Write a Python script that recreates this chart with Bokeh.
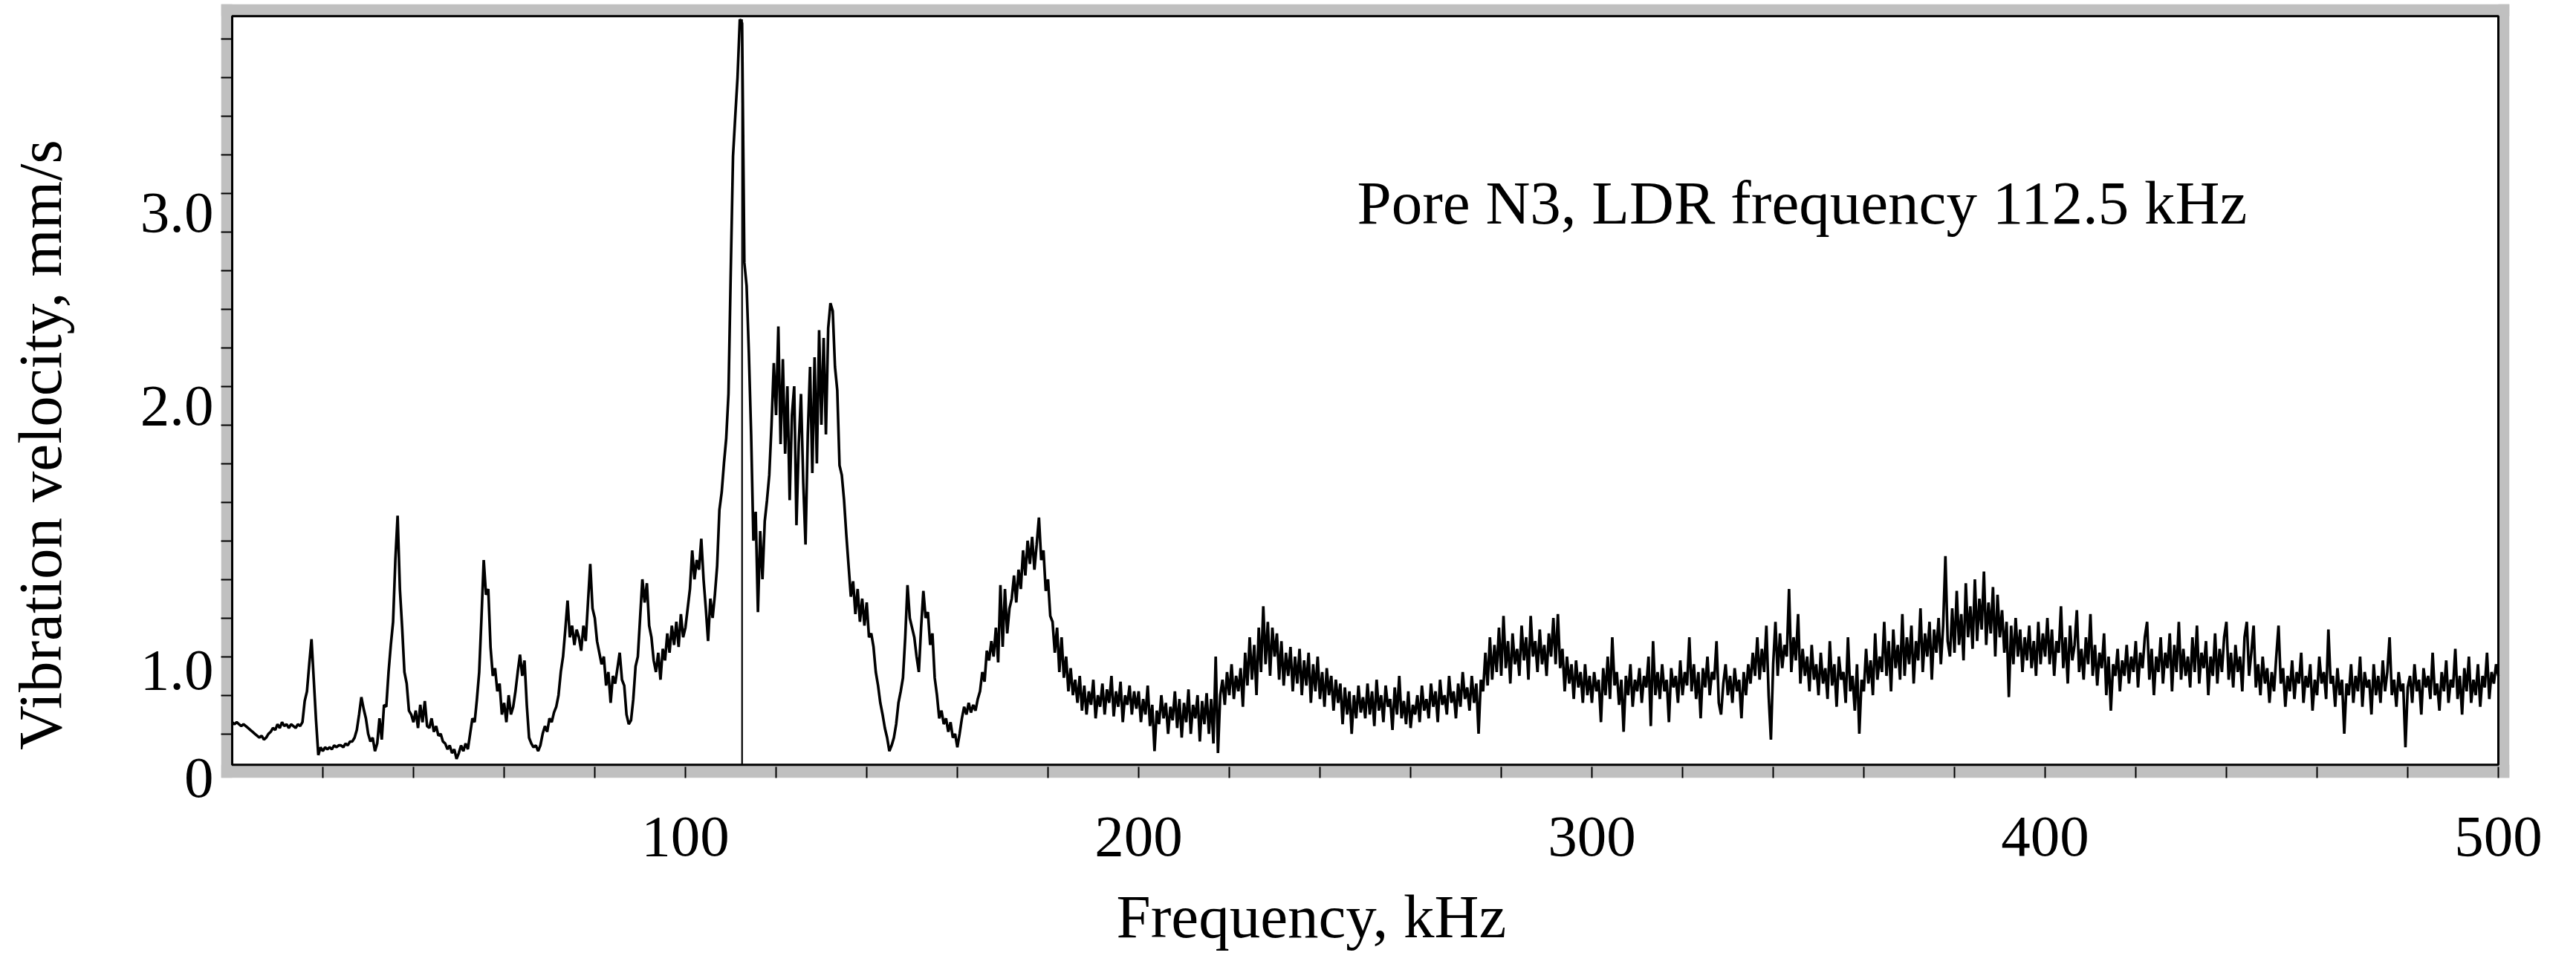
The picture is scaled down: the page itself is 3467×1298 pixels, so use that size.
import numpy as np
from bokeh.plotting import figure
from bokeh.models import Range1d, FixedTicker, BoxAnnotation, Label
from bokeh.embed import file_html
from bokeh.resources import INLINE

# ---------------- data ----------------
FREQ_STEP_KHZ = 0.5           # sampling step of the spectrum, kHz
LDR_FREQ_KHZ = 112.5          # marked LDR frequency

# vibration velocity, mm/s, every 0.5 kHz
v_000_050 = [
    0.36, 0.35, 0.36, 0.35, 0.34, 0.35, 0.34, 0.33, 0.32, 0.31,
    0.30, 0.29, 0.28, 0.29, 0.27, 0.28, 0.30, 0.31, 0.33, 0.32,
    0.35, 0.33, 0.36, 0.34, 0.35, 0.33, 0.35, 0.34, 0.33, 0.35,
    0.34, 0.36, 0.47, 0.52, 0.66, 0.79, 0.58, 0.37, 0.19, 0.23,
    0.21, 0.23, 0.22, 0.23, 0.22, 0.24, 0.23, 0.24, 0.24, 0.23,
    0.25, 0.24, 0.26, 0.26, 0.28, 0.32, 0.40, 0.49, 0.43, 0.38,
    0.30, 0.26, 0.28, 0.21, 0.25, 0.38, 0.27, 0.45, 0.44, 0.62,
    0.76, 0.88, 1.20, 1.43, 1.05, 0.85, 0.62, 0.56, 0.42, 0.40,
    0.36, 0.42, 0.33, 0.45, 0.36, 0.47, 0.34, 0.33, 0.38, 0.31,
    0.34, 0.29, 0.30, 0.26, 0.25, 0.22, 0.24, 0.20, 0.22, 0.17,
]
v_050_100 = [
    0.20, 0.24, 0.21, 0.25, 0.22, 0.30, 0.38, 0.36, 0.48, 0.62,
    0.90, 1.20, 1.02, 1.05, 0.75, 0.60, 0.64, 0.52, 0.56, 0.40,
    0.46, 0.36, 0.50, 0.40, 0.44, 0.52, 0.62, 0.71, 0.60, 0.68,
    0.45, 0.28, 0.25, 0.23, 0.24, 0.21, 0.24, 0.30, 0.34, 0.31,
    0.38, 0.36, 0.41, 0.44, 0.50, 0.62, 0.70, 0.84, 0.99, 0.80,
    0.86, 0.76, 0.84, 0.80, 0.73, 0.86, 0.78, 0.98, 1.18, 0.95,
    0.90, 0.78, 0.72, 0.66, 0.70, 0.55, 0.62, 0.46, 0.60, 0.56,
    0.64, 0.72, 0.58, 0.55, 0.40, 0.35, 0.37, 0.48, 0.65, 0.70,
    0.90, 1.10, 0.98, 1.08, 0.86, 0.80, 0.68, 0.62, 0.72, 0.58,
    0.74, 0.68, 0.82, 0.72, 0.86, 0.76, 0.88, 0.75, 0.92, 0.80,
]
v_100_150 = [
    0.85, 0.95, 1.05, 1.25, 1.10, 1.20, 1.15, 1.31, 1.10, 0.95,
    0.78, 1.00, 0.90, 1.02, 1.17, 1.46, 1.55, 1.70, 1.83, 2.06,
    2.69, 3.29, 3.50, 3.70, 4.00, 3.98, 2.74, 2.62, 2.27, 1.85,
    1.30, 1.45, 0.93, 1.35, 1.10, 1.40, 1.51, 1.64, 1.90, 2.22,
    1.95, 2.41, 1.80, 2.24, 1.75, 2.10, 1.51, 1.95, 2.10, 1.38,
    1.80, 2.06, 1.60, 1.28, 1.85, 2.20, 1.65, 2.25, 1.70, 2.39,
    1.90, 2.35, 1.85, 2.40, 2.53, 2.49, 2.20, 2.08, 1.69, 1.64,
    1.51, 1.33, 1.17, 1.01, 1.09, 0.92, 1.05, 0.88, 1.00, 0.86,
    0.98, 0.80, 0.82, 0.75, 0.62, 0.55, 0.46, 0.40, 0.33, 0.28,
    0.21, 0.24, 0.28, 0.35, 0.46, 0.52, 0.59, 0.80, 1.07, 0.90,
]
v_150_200 = [
    0.85, 0.80, 0.70, 0.62, 0.85, 1.04, 0.90, 0.93, 0.76, 0.82,
    0.59, 0.50, 0.38, 0.42, 0.35, 0.38, 0.31, 0.36, 0.28, 0.30,
    0.23, 0.30, 0.38, 0.44, 0.40, 0.46, 0.41, 0.45, 0.42, 0.48,
    0.52, 0.62, 0.57, 0.73, 0.68, 0.78, 0.70, 0.85, 0.67, 1.07,
    0.75, 1.05, 0.82, 0.95, 1.00, 1.12, 0.98, 1.15, 1.05, 1.25,
    1.12, 1.30, 1.18, 1.32, 1.15, 1.28, 1.42, 1.20, 1.25, 1.04,
    1.10, 0.91, 0.88, 0.72, 0.85, 0.62, 0.80, 0.59, 0.70, 0.52,
    0.64, 0.50, 0.58, 0.46, 0.60, 0.42, 0.55, 0.40, 0.52, 0.45,
    0.58, 0.38, 0.50, 0.44, 0.56, 0.40, 0.53, 0.46, 0.60, 0.39,
    0.52, 0.44, 0.57, 0.36, 0.50, 0.45, 0.55, 0.40, 0.52, 0.43,
]
v_200_250 = [
    0.52, 0.36, 0.48, 0.40, 0.55, 0.34, 0.45, 0.21, 0.42, 0.35,
    0.50, 0.38, 0.46, 0.30, 0.44, 0.37, 0.52, 0.33, 0.48, 0.28,
    0.46, 0.36, 0.53, 0.30, 0.45, 0.38, 0.50, 0.26, 0.47, 0.35,
    0.51, 0.30, 0.48, 0.25, 0.70, 0.20, 0.50, 0.58, 0.45, 0.62,
    0.50, 0.66, 0.48, 0.60, 0.52, 0.64, 0.44, 0.72, 0.55, 0.80,
    0.58, 0.76, 0.50, 0.85, 0.62, 0.96, 0.66, 0.88, 0.60, 0.85,
    0.70, 0.82, 0.58, 0.78, 0.55, 0.72, 0.60, 0.75, 0.52, 0.70,
    0.56, 0.74, 0.50, 0.68, 0.55, 0.72, 0.46, 0.66, 0.52, 0.70,
    0.48, 0.62, 0.44, 0.64, 0.50, 0.60, 0.42, 0.58, 0.46, 0.56,
    0.35, 0.54, 0.40, 0.52, 0.30, 0.50, 0.38, 0.55, 0.41, 0.49,
]
v_250_300 = [
    0.38, 0.56, 0.40, 0.52, 0.34, 0.58, 0.42, 0.50, 0.36, 0.55,
    0.44, 0.48, 0.32, 0.54, 0.40, 0.60, 0.38, 0.47, 0.35, 0.52,
    0.33, 0.45, 0.40, 0.50, 0.36, 0.55, 0.42, 0.48, 0.38, 0.56,
    0.44, 0.52, 0.36, 0.58, 0.45, 0.50, 0.40, 0.60, 0.46, 0.52,
    0.38, 0.56, 0.44, 0.62, 0.48, 0.54, 0.42, 0.60, 0.46, 0.56,
    0.30, 0.58, 0.52, 0.72, 0.55, 0.80, 0.58, 0.76, 0.62, 0.85,
    0.60, 0.91, 0.64, 0.78, 0.56, 0.82, 0.66, 0.74, 0.60, 0.86,
    0.68, 0.80, 0.58, 0.91, 0.70, 0.78, 0.62, 0.84, 0.66, 0.76,
    0.60, 0.82, 0.70, 0.90, 0.66, 0.92, 0.64, 0.74, 0.52, 0.70,
    0.56, 0.66, 0.48, 0.68, 0.54, 0.62, 0.46, 0.66, 0.50, 0.60,
]
v_300_350 = [
    0.46, 0.62, 0.52, 0.58, 0.36, 0.64, 0.50, 0.70, 0.48, 0.80,
    0.55, 0.62, 0.45, 0.58, 0.31, 0.60, 0.50, 0.66, 0.44, 0.58,
    0.52, 0.64, 0.46, 0.60, 0.54, 0.70, 0.34, 0.78, 0.50, 0.62,
    0.48, 0.66, 0.52, 0.58, 0.36, 0.64, 0.54, 0.60, 0.46, 0.68,
    0.50, 0.62, 0.55, 0.80, 0.52, 0.66, 0.48, 0.62, 0.38, 0.64,
    0.54, 0.70, 0.50, 0.62, 0.58, 0.78, 0.46, 0.40, 0.56, 0.66,
    0.50, 0.60, 0.46, 0.64, 0.52, 0.58, 0.38, 0.62, 0.50, 0.66,
    0.56, 0.72, 0.60, 0.80, 0.58, 0.74, 0.62, 0.86, 0.50, 0.27,
    0.66, 0.88, 0.60, 0.82, 0.64, 0.76, 0.70, 1.05, 0.62, 0.80,
    0.68, 0.92, 0.56, 0.74, 0.60, 0.70, 0.52, 0.76, 0.58, 0.66,
]
v_350_400 = [
    0.50, 0.72, 0.56, 0.64, 0.48, 0.78, 0.55, 0.66, 0.44, 0.70,
    0.58, 0.62, 0.46, 0.80, 0.52, 0.60, 0.42, 0.66, 0.30, 0.58,
    0.52, 0.74, 0.56, 0.68, 0.50, 0.82, 0.58, 0.70, 0.62, 0.88,
    0.60, 0.78, 0.52, 0.84, 0.64, 0.76, 0.58, 0.92, 0.60, 0.80,
    0.66, 0.86, 0.56, 0.78, 0.68, 0.95, 0.62, 0.82, 0.70, 0.88,
    0.58, 0.84, 0.72, 0.90, 0.66, 0.86, 1.22, 0.78, 0.70, 0.95,
    0.72, 1.04, 0.76, 0.92, 0.68, 1.08, 0.80, 0.96, 0.74, 1.10,
    0.78, 1.00, 0.84, 1.14, 0.76, 0.98, 0.82, 1.06, 0.70, 1.02,
    0.80, 0.94, 0.72, 0.88, 0.49, 0.86, 0.66, 0.90, 0.70, 0.84,
    0.62, 0.80, 0.68, 0.86, 0.64, 0.78, 0.60, 0.88, 0.66, 0.82,
]
v_400_450 = [
    0.70, 0.90, 0.66, 0.84, 0.60, 0.78, 0.72, 0.96, 0.64, 0.80,
    0.56, 0.86, 0.68, 0.76, 0.94, 0.62, 0.74, 0.58, 0.80, 0.66,
    0.92, 0.60, 0.76, 0.55, 0.72, 0.64, 0.82, 0.50, 0.70, 0.42,
    0.66, 0.60, 0.74, 0.52, 0.68, 0.60, 0.76, 0.56, 0.70, 0.62,
    0.78, 0.54, 0.72, 0.64, 0.80, 0.88, 0.58, 0.74, 0.50, 0.70,
    0.62, 0.80, 0.56, 0.72, 0.64, 0.82, 0.52, 0.76, 0.62, 0.88,
    0.58, 0.74, 0.60, 0.70, 0.54, 0.80, 0.62, 0.86, 0.56, 0.72,
    0.64, 0.78, 0.50, 0.70, 0.60, 0.82, 0.56, 0.74, 0.62, 0.80,
    0.88, 0.58, 0.72, 0.54, 0.76, 0.62, 0.70, 0.52, 0.80, 0.88,
    0.60, 0.72, 0.86, 0.54, 0.66, 0.50, 0.70, 0.56, 0.64, 0.46,
]
v_450_500 = [
    0.62, 0.52, 0.70, 0.86, 0.56, 0.64, 0.44, 0.60, 0.52, 0.68,
    0.48, 0.62, 0.56, 0.72, 0.46, 0.60, 0.54, 0.66, 0.42, 0.58,
    0.50, 0.70, 0.56, 0.62, 0.48, 0.84, 0.56, 0.60, 0.44, 0.64,
    0.50, 0.58, 0.30, 0.56, 0.50, 0.66, 0.46, 0.60, 0.52, 0.70,
    0.44, 0.62, 0.54, 0.58, 0.40, 0.66, 0.50, 0.60, 0.46, 0.68,
    0.52, 0.62, 0.80, 0.50, 0.58, 0.44, 0.62, 0.52, 0.56, 0.23,
    0.54, 0.60, 0.46, 0.66, 0.52, 0.58, 0.40, 0.64, 0.54, 0.60,
    0.48, 0.72, 0.50, 0.56, 0.42, 0.62, 0.52, 0.68, 0.46, 0.58,
    0.54, 0.74, 0.48, 0.60, 0.40, 0.64, 0.52, 0.70, 0.46, 0.58,
    0.50, 0.66, 0.44, 0.60, 0.54, 0.72, 0.48, 0.62, 0.56, 0.66,
]
v_500 = [0.60]

# axis ticks and labels
x_tick_values = [100, 200, 300, 400, 500]
x_minor_ticks = [20, 40, 60, 80, 120, 140, 160, 180, 220, 240, 260, 280,
                 320, 340, 360, 380, 420, 440, 460, 480]
y_tick_labels = ["0", "1.0", "2.0", "3.0"]
y_minor_ticks = [0.3, 0.5, 0.7, 0.9, 1.1, 1.3, 1.5, 1.7, 1.9, 2.1,
                 2.3, 2.5, 2.7, 2.9, 3.1, 3.3, 3.5, 3.7, 3.9]

velocity = (v_000_050 + v_050_100 + v_100_150 + v_150_200 + v_200_250 +
            v_250_300 + v_300_350 + v_350_400 + v_400_450 + v_450_500 + v_500)
freq = [i * FREQ_STEP_KHZ for i in range(len(velocity))]

# ---------------- layout ----------------
X_MIN, X_MAX = 0.0, 500.0        # inner plotting box, kHz
Y_LO, Y_HI = 0.14, 4.016         # inner plotting box, mm/s
PX_PER_KHZ = 6.1
PX_PER_UNIT = 262.0
BAND_X = 15                      # grey frame width in px
BAND_TOP, BAND_BOTTOM = 16.5, 18
GREY = "#c0c0c0"
FONT = "Liberation Serif"
NBSP = "\u00a0"                  # padding that shifts the axis titles off-centre

x_range = Range1d(X_MIN - BAND_X / PX_PER_KHZ, X_MAX + BAND_X / PX_PER_KHZ)
y_range = Range1d(Y_LO - BAND_BOTTOM / PX_PER_UNIT, Y_HI + BAND_TOP / PX_PER_UNIT)
frame_w = round((x_range.end - x_range.start) * PX_PER_KHZ)
frame_h = round((y_range.end - y_range.start) * PX_PER_UNIT)

# where the reference prints its y tick labels (the "0" sits at the corner,
# the "1.0" is printed lower than its nominal value)
y_label_pos = [y_range.start + 1e-6, 0.63, 2.0, 3.0]

LEFT, RIGHT, TOP, BOTTOM = 297, 71, 5, 227

p = figure(width=LEFT + frame_w + RIGHT, height=TOP + frame_h + BOTTOM,
           x_range=x_range, y_range=y_range,
           output_backend="svg", toolbar_location=None,
           min_border_left=LEFT, min_border_right=RIGHT,
           min_border_top=TOP, min_border_bottom=BOTTOM)
p.background_fill_color = "white"
p.border_fill_color = "white"
p.outline_line_color = None
p.grid.visible = False

# grey frame + inner black border
for kw in (dict(right=X_MIN), dict(left=X_MAX), dict(top=Y_LO), dict(bottom=Y_HI)):
    p.add_layout(BoxAnnotation(fill_color=GREY, fill_alpha=1.0, line_alpha=0.0,
                               level="underlay", **kw))
p.add_layout(BoxAnnotation(left=X_MIN, right=X_MAX, bottom=Y_LO, top=Y_HI,
                           fill_alpha=0.0, line_color="black", line_alpha=1.0,
                           line_width=3, level="underlay"))

# spectrum
p.line(freq, velocity, line_color="black", line_width=3.6)
p.segment(x0=[LDR_FREQ_KHZ], y0=[Y_LO], x1=[LDR_FREQ_KHZ], y1=[max(velocity)],
          line_color="black", line_width=2.2)

# axes
for ax in (p.xaxis[0], p.yaxis[0]):
    ax.axis_line_color = None
    ax.major_tick_out = 0
    ax.minor_tick_out = 0
    ax.minor_tick_in = 15
    ax.minor_tick_line_color = "black"
    ax.minor_tick_line_width = 2
    ax.major_label_text_font = FONT
    ax.major_label_text_font_size = "79px"
    ax.major_label_text_color = "black"
    ax.axis_label_text_font = FONT
    ax.axis_label_text_font_size = "83px"
    ax.axis_label_text_font_style = "normal"
    ax.axis_label_text_color = "black"

p.xaxis.ticker = FixedTicker(ticks=x_tick_values, minor_ticks=x_minor_ticks)
p.xaxis.major_tick_in = 15
p.xaxis.major_tick_line_color = "black"
p.xaxis.major_tick_line_width = 2
p.xaxis.major_label_standoff = 53
p.xaxis.axis_label = "Frequency, kHz" + NBSP * 7
p.xaxis.axis_label_standoff = 33

p.yaxis.ticker = FixedTicker(ticks=y_label_pos, minor_ticks=y_minor_ticks)
p.yaxis.major_label_overrides = {v: s for v, s in zip(y_label_pos, y_tick_labels)}
p.yaxis.major_tick_in = 0
p.yaxis.major_tick_line_color = None
p.yaxis.major_label_standoff = 10
p.yaxis.axis_label = "Vibration velocity, mm/s" + NBSP * 7
p.yaxis.axis_label_standoff = 86

# in-plot caption
p.add_layout(Label(x=248.2, y=3.05, text="Pore N3, LDR frequency 112.5 kHz",
                   text_font=FONT, text_font_size="83px", text_color="black",
                   text_align="left", text_baseline="alphabetic"))

open("out.html", "w").write(file_html(p, INLINE))
